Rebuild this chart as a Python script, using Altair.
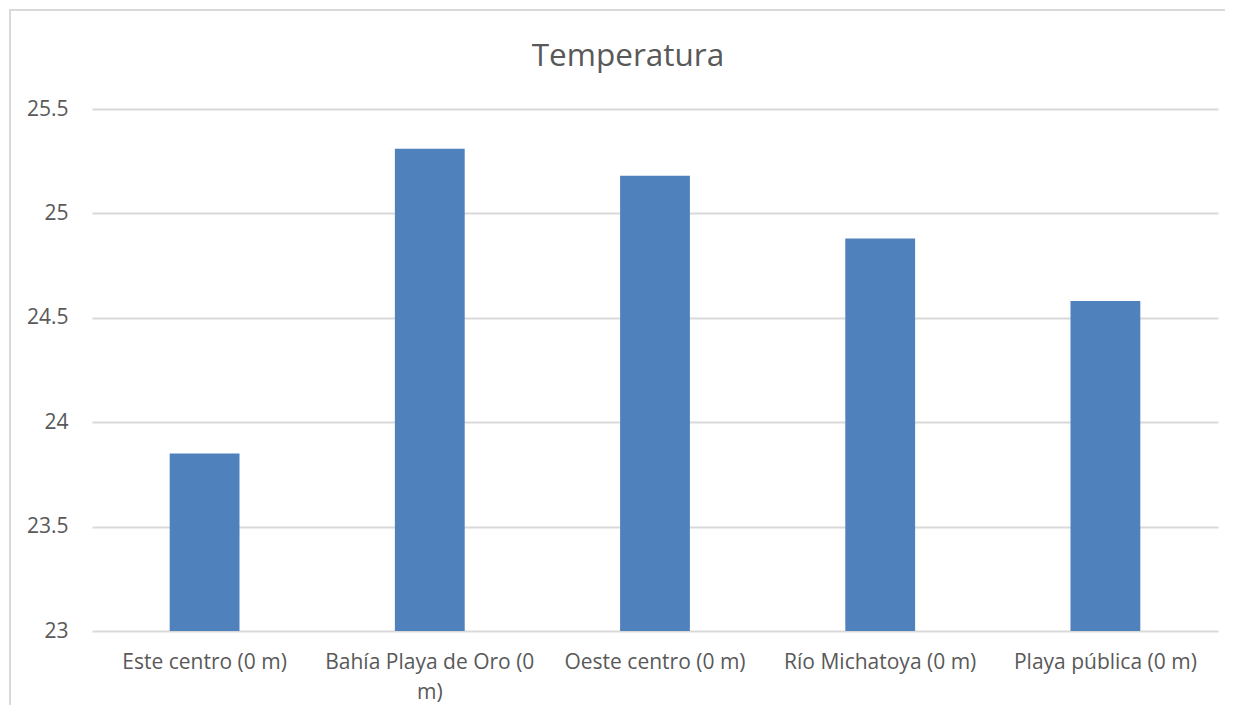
import altair as alt
import pandas as pd

categories = ["Este centro (0 m)", "Bahía Playa de Oro (0 m)", "Oeste centro (0 m)",
              "Río Michatoya (0 m)", "Playa pública (0 m)"]
values = [23.85, 25.31, 25.18, 24.88, 24.58]
y_ticks = [23, 23.5, 24, 24.5, 25, 25.5]
title_text = "Temperatura"

df = pd.DataFrame({"sitio": categories, "temp": values})
one = pd.DataFrame({"t": [title_text]})

FONT = "Open Sans"
TEXT = "#595959"
GRID = "#d9d9d9"

W, H = 1126, 522

label_expr = ("datum.value == 'Bahía Playa de Oro (0 m)' ? "
              "['Bahía Playa de Oro (0', 'm)'] : datum.value")

bars = alt.Chart(df).mark_bar(color="#4f81bd").encode(
    x=alt.X("sitio:N", sort=categories, title=None,
            scale=alt.Scale(paddingInner=0.69, paddingOuter=0.345),
            axis=alt.Axis(labelAngle=0, labelExpr=label_expr, labelFont=FONT,
                          labelFontSize=21, labelColor=TEXT, labelPadding=20,
                          labelLineHeight=30, ticks=False, domain=False,
                          grid=False, labelLimit=400)),
    y=alt.Y("temp:Q", title=None,
            scale=alt.Scale(domain=[23, 25.5], zero=False, nice=False),
            axis=alt.Axis(values=y_ticks, labelExpr="datum.value + ''",
                          labelFont=FONT, labelFontSize=21, labelColor=TEXT,
                          labelPadding=24, ticks=False, domain=False,
                          grid=True, gridColor=GRID, gridWidth=2)),
    y2=alt.datum(23),
)

left_edge = alt.Chart(one).mark_rule(color=GRID, strokeWidth=2).encode(
    x=alt.value(-82), y=alt.value(-100), y2=alt.value(H + 120)
)
top_edge = alt.Chart(one).mark_rule(color=GRID, strokeWidth=2).encode(
    x=alt.value(-83), x2=alt.value(W + 200), y=alt.value(-99)
)

title = alt.Chart(one).mark_text(font=FONT, fontSize=31.5, color=TEXT,
                                 align="center", baseline="alphabetic").encode(
    text="t:N", x=alt.value(W / 2 - 27), y=alt.value(-43)
)

chart = alt.layer(left_edge, top_edge, bars, title).properties(
    width=W, height=H,
    background="white",
    autosize=alt.AutoSizeParams(type="none"),
    padding={"left": 84, "top": 101, "right": 7, "bottom": 74},
).configure_view(strokeWidth=0, stroke="transparent")

chart.save("out.html", embed_options={"renderer": "svg", "actions": False})
